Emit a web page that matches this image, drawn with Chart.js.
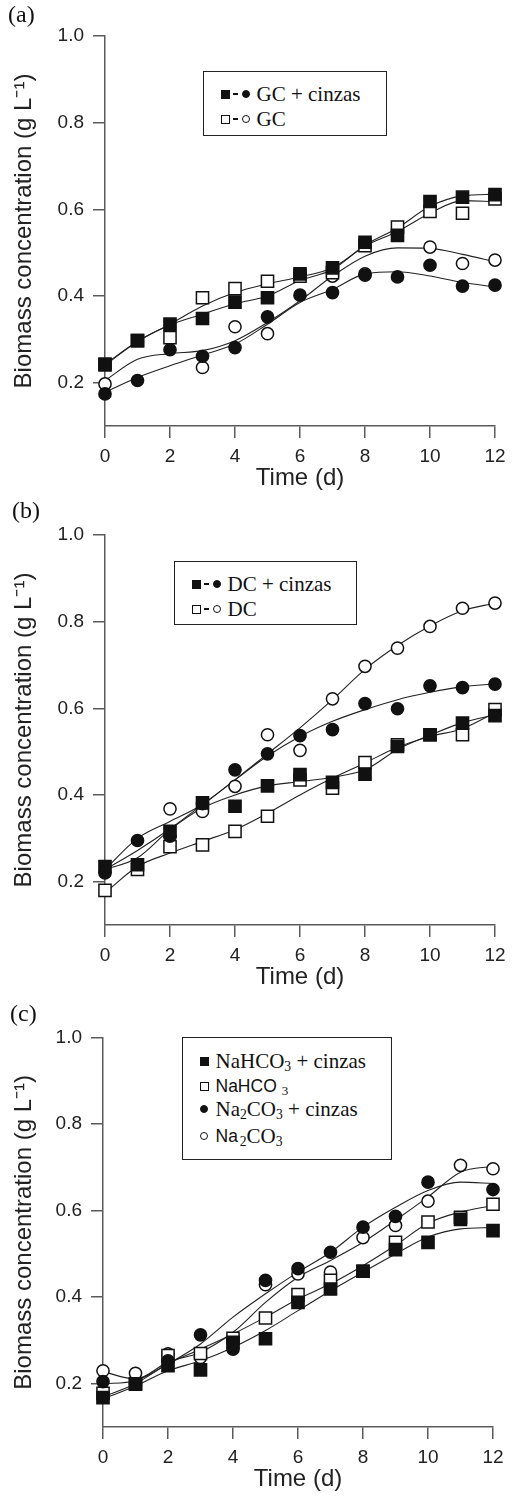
<!DOCTYPE html>
<html><head><meta charset="utf-8">
<script src="https://cdn.jsdelivr.net/npm/chart.js@4.4.0/dist/chart.umd.min.js"></script>
<style>
html,body{margin:0;padding:0;background:#fff;}
body{width:516px;height:1497px;position:relative;overflow:hidden;}
canvas{position:absolute;left:0;}
.lbl{position:absolute;font-family:"Liberation Serif","Times New Roman",serif;font-size:24px;color:#111;line-height:24px;}
.legend{position:absolute;border:1.5px solid #222;box-sizing:border-box;background:#fff;}
.row{position:absolute;left:16.5px;display:flex;align-items:center;height:24px;white-space:nowrap;color:#111;}
.serif{font-family:"Liberation Serif","Times New Roman",serif;font-size:21px;}
.sans{font-family:"Liberation Sans",Arial,sans-serif;font-size:17.5px;}
.sq{display:inline-block;width:9px;height:9px;box-sizing:border-box;border:1.2px solid #111;flex:none;}
.sq.f{background:#111;}
.ci{display:inline-block;width:8px;height:8px;border-radius:50%;box-sizing:border-box;border:1.2px solid #111;flex:none;}
.ci.f{background:#111;}
.dash{display:inline-block;width:5px;height:2px;background:#111;margin:0 4px 0 3px;flex:none;}
.gap{display:inline-block;width:7px;flex:none;}
sub{font-size:0.65em;vertical-align:-0.25em;line-height:0;}
</style></head>
<body>
<canvas id="ca" width="516" height="495" style="top:0px"></canvas>
<canvas id="cb" width="516" height="500" style="top:495px"></canvas>
<canvas id="cc" width="516" height="502" style="top:995px"></canvas>

<div class="lbl" style="left:8px;top:2px">(a)</div>
<div class="lbl" style="left:12px;top:498px">(b)</div>
<div class="lbl" style="left:10px;top:1001px">(c)</div>

<div class="legend" style="left:203px;top:71px;width:184px;height:65px">
  <div class="row" style="top:10px"><span class="sq f"></span><span class="dash"></span><span class="ci f"></span><span class="gap"></span><span class="serif">GC + cinzas</span></div>
  <div class="row" style="top:35px"><span class="sq"></span><span class="dash"></span><span class="ci"></span><span class="gap"></span><span class="serif">GC</span></div>
</div>
<div class="legend" style="left:174px;top:561px;width:183px;height:64px">
  <div class="row" style="top:10px"><span class="sq f"></span><span class="dash"></span><span class="ci f"></span><span class="gap"></span><span class="serif">DC + cinzas</span></div>
  <div class="row" style="top:35px"><span class="sq"></span><span class="dash"></span><span class="ci"></span><span class="gap"></span><span class="serif">DC</span></div>
</div>
<div class="legend" style="left:182px;top:1037px;width:210px;height:123px">
  <div class="row" style="top:11px"><span class="sq f"></span><span class="gap"></span><span class="serif">NaHCO<sub>3</sub> + cinzas</span></div>
  <div class="row" style="top:36px"><span class="sq"></span><span class="gap"></span><span class="sans">NaHCO <sub class="serif" style="font-size:13px">3</sub></span></div>
  <div class="row" style="top:59px"><span class="ci f"></span><span class="gap" style="width:8px"></span><span class="serif">Na<sub>2</sub>CO<sub>3</sub> + cinzas</span></div>
  <div class="row" style="top:86px"><span class="ci"></span><span class="gap" style="width:8px"></span><span class="sans">Na</span><span class="serif">&#8202;<sub>2</sub>CO<sub>3</sub></span></div>
</div>

<script>
// ---------- shared axes ----------
const days = [0,1,2,3,4,5,6,7,8,9,10,11,12];
const xTickValues = [0,2,4,6,8,10,12];
const yTickValues = [0.2,0.4,0.6,0.8,1.0];
const xTitle = 'Time (d)';
const yTitle = 'Biomass concentration (g L\u207B\u00B9)';

// ---------- panel (a): GC ----------
const aSquareAsh = [0.241,0.297,0.335,0.348,0.386,0.396,0.451,0.465,0.524,0.540,0.618,0.628,0.634];
const aSquare    = [0.243,0.297,0.304,0.396,0.417,0.434,0.446,0.454,0.516,0.559,0.595,0.591,0.624];
const aCircleAsh = [0.174,0.205,0.276,0.261,0.281,0.352,0.402,0.408,0.448,0.444,0.471,0.423,0.425];
const aCircle    = [0.197,null,null,0.235,0.329,0.313,null,0.446,0.451,null,0.513,0.475,0.483];
const aFitSquareAsh = [0.240,0.295,0.333,0.358,0.382,0.400,0.436,0.461,0.517,0.557,0.607,0.631,0.635];
const aFitSquare    = [0.243,0.295,0.335,0.377,0.408,0.428,0.444,0.465,0.515,0.549,0.591,0.620,0.618];
const aFitCircleAsh = [0.178,0.212,0.239,0.264,0.289,0.335,0.385,0.415,0.451,0.456,0.446,0.431,0.421];
const aFitCircle    = [0.205,0.254,0.267,0.274,0.297,0.339,0.389,0.446,0.492,0.511,0.510,0.496,0.479];

// ---------- panel (b): DC ----------
const bSquareAsh = [0.235,0.239,0.316,0.382,0.374,0.421,0.447,0.429,0.448,0.512,0.539,0.566,0.583];
const bSquare    = [0.180,0.228,0.281,0.285,0.316,0.351,0.435,0.416,0.475,0.516,0.539,0.539,0.597];
const bCircleAsh = [0.220,0.295,0.305,0.380,0.458,0.495,0.537,0.551,0.611,0.599,0.652,0.648,0.656];
const bCircle    = [null,null,0.368,0.362,0.420,0.539,0.503,0.622,0.697,0.739,0.789,0.831,0.843];
const bFitSquareAsh = [0.228,0.255,0.320,0.370,0.400,0.421,0.431,0.441,0.458,0.505,0.538,0.567,0.585];
const bFitSquare    = [0.174,0.235,0.266,0.293,0.320,0.358,0.400,0.439,0.474,0.510,0.535,0.553,0.590];
const bFitCircleAsh = [0.228,0.300,0.339,0.378,0.435,0.490,0.535,0.570,0.597,0.620,0.637,0.650,0.656];
const bFitCircle    = [0.228,0.272,0.322,0.378,0.435,0.495,0.555,0.620,0.690,0.745,0.790,0.825,0.843];

// ---------- panel (c): NaHCO3 / Na2CO3 ----------
const cSquareAsh = [0.168,0.199,0.242,0.232,0.296,0.304,0.388,0.419,0.460,0.510,0.527,0.580,0.554];
const cSquare    = [0.178,0.200,0.265,0.270,0.305,0.352,0.406,0.439,0.460,0.527,0.574,0.585,0.615];
const cCircleAsh = [0.205,0.200,0.253,0.313,0.280,0.439,0.466,0.504,0.562,0.587,0.666,null,0.649];
const cCircle    = [0.230,0.224,0.269,0.261,null,0.429,0.454,0.458,0.538,0.566,0.622,0.705,0.697];
const cFitSquareAsh = [0.165,0.195,0.230,0.253,0.284,0.323,0.369,0.415,0.458,0.500,0.539,0.558,0.561];
const cFitSquare    = [0.170,0.200,0.246,0.280,0.315,0.354,0.396,0.431,0.473,0.520,0.571,0.597,0.612];
const cFitCircleAsh = [0.200,0.207,0.246,0.292,0.354,0.408,0.458,0.504,0.562,0.608,0.647,0.666,0.663];
const cFitCircle    = [0.228,0.211,0.250,0.273,0.319,0.388,0.446,0.485,0.527,0.578,0.632,0.689,0.703];

// ---------- helpers ----------
const SANS = '"Liberation Sans", Arial, sans-serif';
const AXC = '#5a5a5a';
const INK = '#111';
const XH = 68;

function pts(arr){ return days.map((d,i)=>({x:d, y:arr[i]})); }
function markers(arr, style, filled, order){
  return {type:'scatter', data:pts(arr), showLine:false, order:order,
    pointStyle:style, pointRadius: style==='rect' ? 8.6 : 6.1, pointHoverRadius: style==='rect' ? 8.6 : 6.1,
    pointBackgroundColor: filled ? INK : '#fff', pointBorderColor: INK, pointBorderWidth:1.5, clip:false};
}
function fit(arr){
  return {type:'line', data:pts(arr), showLine:true, order:10, borderColor:'#222', borderWidth:1.1,
    pointRadius:0, pointHoverRadius:0, tension:0.4, cubicInterpolationMode:'monotone', fill:false, clip:false};
}
function panelSets(sqAsh, sq, ciAsh, ci, fSqAsh, fSq, fCiAsh, fCi){
  return [
    markers(sqAsh,'rect',true,1),
    markers(ciAsh,'circle',true,2),
    markers(sq,'rect',false,3),
    markers(ci,'circle',false,4),
    fit(fSqAsh), fit(fSq), fit(fCiAsh), fit(fCi)
  ];
}
function makeChart(id, area, H, datasets){
  return new Chart(document.getElementById(id), {
    type:'scatter',
    data:{datasets},
    options:{
      responsive:false, animation:false, devicePixelRatio:1,
      events:[],
      layout:{padding:{left:0, right:516-area.r, top:area.t, bottom:H-area.b-XH}},
      plugins:{legend:{display:false}, tooltip:{enabled:false}},
      scales:{
        x:{type:'linear', min:0, max:12,
          afterBuildTicks:s=>{ s.ticks = xTickValues.map(v=>({value:v})); },
          afterFit:s=>{ s.height = XH; },
          grid:{drawOnChartArea:false, drawTicks:true, tickLength:12, color:AXC, lineWidth:1.5},
          border:{display:true, color:AXC, width:1.5},
          ticks:{font:{family:SANS, size:19}, color:'#222', padding:7, maxRotation:0, autoSkip:false},
          title:{display:true, text:xTitle, font:{family:SANS, size:24}, color:'#222', padding:{top:0, bottom:1}}
        },
        y:{type:'linear', min:0.1, max:1.0,
          afterBuildTicks:s=>{ s.ticks = yTickValues.map(v=>({value:v})); },
          afterFit:s=>{ s.width = area.l; },
          grid:{drawOnChartArea:false, drawTicks:true, tickLength:12, color:AXC, lineWidth:1.5},
          border:{display:true, color:AXC, width:1.5},
          ticks:{font:{family:SANS, size:19}, color:'#222', padding:9, autoSkip:false, callback:v=>Number(v).toFixed(1)},
          title:{display:true, text:yTitle, font:{family:SANS, size:24}, color:'#222', padding:{top:10, bottom:0}}
        }
      }
    }
  });
}

makeChart('ca', {l:105, r:495, t:36, b:426}, 495,
  panelSets(aSquareAsh, aSquare, aCircleAsh, aCircle, aFitSquareAsh, aFitSquare, aFitCircleAsh, aFitCircle));
makeChart('cb', {l:105, r:495, t:40, b:430}, 500,
  panelSets(bSquareAsh, bSquare, bCircleAsh, bCircle, bFitSquareAsh, bFitSquare, bFitCircleAsh, bFitCircle));
makeChart('cc', {l:103, r:493, t:42.7, b:432}, 502,
  panelSets(cSquareAsh, cSquare, cCircleAsh, cCircle, cFitSquareAsh, cFitSquare, cFitCircleAsh, cFitCircle));
</script>
</body></html>
